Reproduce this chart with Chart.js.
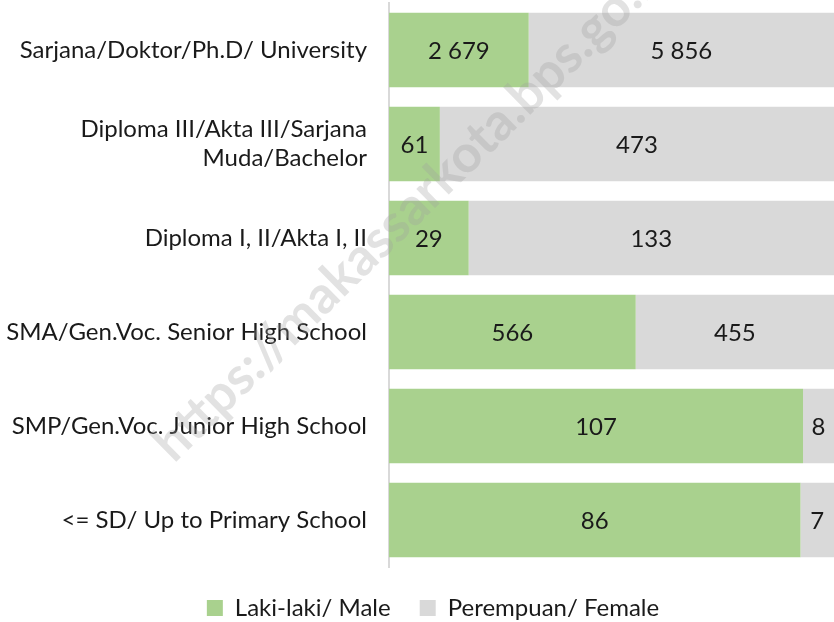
<!DOCTYPE html>
<html>
<head>
<meta charset="utf-8">
<script src="https://cdn.jsdelivr.net/npm/chart.js@4"></script>
<style>
  html, body { margin: 0; padding: 0; background: #fff; }
  #wrap { width: 834px; height: 622px; }
</style>
</head>
<body>
<div id="wrap"><canvas id="mycanvas" width="834" height="622"></canvas></div>
<script>
const categories = [
    "Sarjana/Doktor/Ph.D/ University",
    ["Diploma III/Akta III/Sarjana", "Muda/Bachelor"],
    "Diploma I, II/Akta I, II",
    "SMA/Gen.Voc. Senior High School",
    "SMP/Gen.Voc. Junior High School",
    "<= SD/ Up to Primary School"
];
const male = [2679, 61, 29, 566, 107, 86];
const female = [5856, 473, 133, 455, 8, 7];

// 100% stacked: share of each row
const totals = male.map((m, i) => m + female[i]);
const malePct = male.map((m, i) => m / totals[i] * 100);
const femalePct = female.map((f, i) => f / totals[i] * 100);
const rawValues = [male, female];

const FONT = "'Lato', 'Open Sans', sans-serif";

function fmt(n) {
    return String(n).replace(/\B(?=(\d{3})+(?!\d))/g, " ");
}

const barLabels = {
    id: "barLabels",
    afterDatasetsDraw(chart) {
        const c = chart.ctx;
        c.save();
        c.font = "24px " + FONT;
        c.fillStyle = "#1a1a1a";
        c.textAlign = "center";
        c.textBaseline = "middle";
        chart.data.datasets.forEach((ds, di) => {
            chart.getDatasetMeta(di).data.forEach((bar, i) => {
                const cx = (bar.x + bar.base) / 2;
                c.fillText(fmt(rawValues[di][i]), cx, bar.y + 1);
            });
        });
        c.restore();
    }
};

// nudge the legend a bit right, like the original
const legendShift = {
    id: "legendShift",
    afterLayout(chart) {
        chart.legend.left += 16;
        chart.legend.right += 16;
    }
};

const watermark = {
    id: "watermark",
    afterDraw(chart) {
        const c = chart.ctx;
        c.save();
        c.translate(174, 464);
        c.rotate(-Math.PI / 4 + 0.01);
        c.font = "bold 52px " + FONT;
        c.fillStyle = "rgba(160,160,160,0.3)";
        c.textAlign = "left";
        c.textBaseline = "alphabetic";
        c.fillText("https://makassarkota.bps.go.id", 0, 0);
        c.restore();
    }
};

const canvas = document.getElementById("mycanvas");
const ctx = canvas.getContext("2d");

var chart = new Chart(ctx, {
    type: "bar",
    data: {
        labels: categories,
        datasets: [
            {
                label: "Laki-laki/ Male",
                data: malePct,
                backgroundColor: "#a9d18e",
                borderWidth: 0
            },
            {
                label: "Perempuan/ Female",
                data: femalePct,
                backgroundColor: "#d9d9d9",
                borderWidth: 0
            }
        ]
    },
    options: {
        indexAxis: "y",
        responsive: false,
        animation: false,
        barPercentage: 0.79,
        categoryPercentage: 1,
        layout: {
            padding: { top: 3, left: 0, right: 0, bottom: -8 }
        },
        scales: {
            x: {
                stacked: true,
                min: 0,
                max: 100,
                display: false
            },
            y: {
                stacked: true,
                grid: { display: false, drawTicks: false },
                border: { display: true, color: "#d9d9d9", width: 2 },
                ticks: {
                    color: "#1a1a1a",
                    font: { family: FONT, size: 24 },
                    padding: 22
                },
                afterFit(scale) {
                    scale.width = 389;
                    scale.paddingTop = 0;
                    scale.paddingBottom = 0;
                }
            }
        },
        plugins: {
            legend: {
                display: true,
                position: "bottom",
                labels: {
                    color: "#1a1a1a",
                    font: { family: FONT, size: 24 },
                    boxWidth: 16,
                    boxHeight: 16,
                    padding: 29
                }
            },
            tooltip: { enabled: false }
        }
    },
    plugins: [barLabels, legendShift, watermark]
});
</script>
</body>
</html>
